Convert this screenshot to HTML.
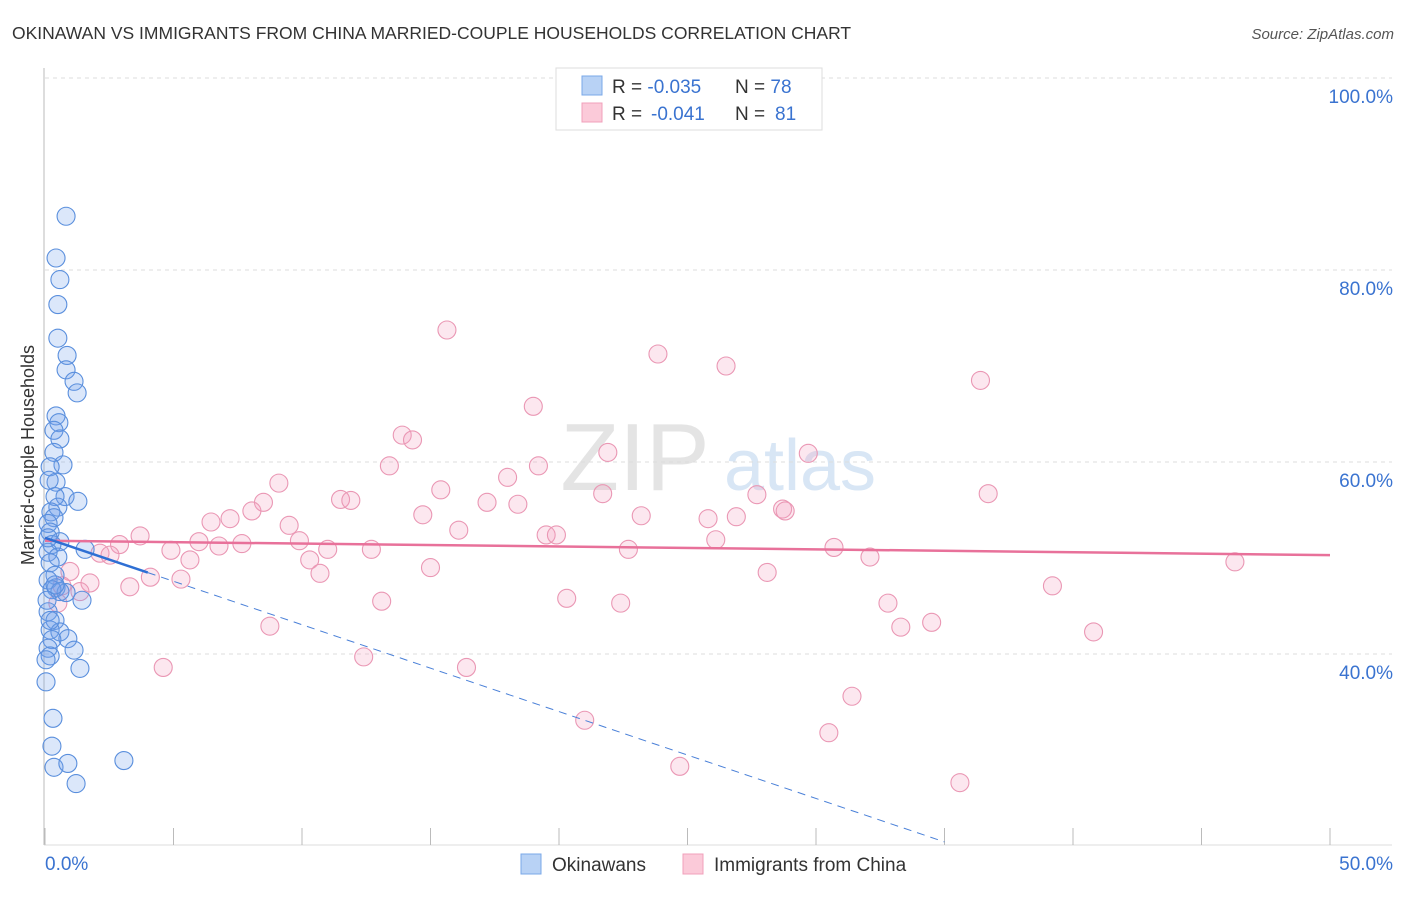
<!DOCTYPE html>
<html><head><meta charset="utf-8"><style>
body{margin:0;background:#fff;font-family:"Liberation Sans",sans-serif;}
svg text{font-family:"Liberation Sans",sans-serif;}
</style></head><body>
<svg id="chart" width="1406" height="892" xmlns="http://www.w3.org/2000/svg">
<text x="12" y="39" font-size="17.5" fill="#333">OKINAWAN VS IMMIGRANTS FROM CHINA MARRIED-COUPLE HOUSEHOLDS CORRELATION CHART</text>
<text x="1394" y="39" font-size="15" fill="#555" font-style="italic" text-anchor="end">Source: ZipAtlas.com</text>
<text x="635" y="490" font-size="96" fill="#e4e4e4" font-family="Liberation Serif" text-anchor="middle">ZIP</text>
<text x="800" y="490" font-size="72" fill="#d8e6f5" text-anchor="middle">atlas</text>
<g id="grid"></g>
<g id="axes"></g>
<g id="marks"></g>
<text transform="translate(34,455) rotate(-90)" font-size="18" fill="#333" text-anchor="middle">Married-couple Households</text>
<g>
<rect x="556" y="68" width="266" height="62" fill="#fff" stroke="#ddd"/>
<rect x="582" y="76" width="20" height="19" fill="#b8d2f5" stroke="#7aa8e8"/>
<rect x="582" y="103" width="20" height="19" fill="#fbcad9" stroke="#f0a0bb"/>
<text x="612" y="93" font-size="19" fill="#333">R = <tspan fill="#3a73d0">-0.035</tspan><tspan x="735">N = </tspan><tspan fill="#3a73d0">78</tspan></text>
<text x="612" y="120" font-size="19" fill="#333">R = <tspan fill="#3a73d0" x="651">-0.041</tspan><tspan x="735">N = </tspan><tspan fill="#3a73d0" x="775">81</tspan></text>
</g>
<g>
<rect x="521" y="854" width="20" height="20" fill="#b8d2f5" stroke="#7aa8e8"/>
<text x="552" y="871" font-size="19" fill="#333">Okinawans</text>
<rect x="683" y="854" width="20" height="20" fill="#fbcad9" stroke="#f0a0bb"/>
<text x="714" y="871" font-size="19" fill="#333">Immigrants from China</text>
</g>
</svg>
<script>
const yTicks=[40,60,80,100];
const yTickLabels=["40.0%","60.0%","80.0%","100.0%"];
const xTicks=[0,5,10,15,20,25,30,35,40,45,50];
const xEndLabels=["0.0%","50.0%"];
const blueX=[0.82,0.43,0.58,0.5,0.5,0.86,0.82,1.13,1.25,0.43,0.54,0.35,0.58,0.35,0.7,0.2,0.43,0.16,0.78,1.28,0.39,0.5,0.23,0.35,0.12,0.2,0.58,0.27,1.56,0.12,0.5,0.2,0.39,0.12,0.43,0.82,0.27,0.58,1.44,0.12,0.39,0.2,0.58,0.89,0.27,0.12,1.13,0.2,1.36,0.04,0.31,0.27,0.35,0.89,3.07,1.21,0.08,0.2,0.04,0.39,0.12];
const blueY=[85.6,81.25,79.0,76.4,72.9,71.1,69.6,68.4,67.2,64.8,64.1,63.3,62.4,61.0,59.7,59.5,57.9,58.1,56.4,55.9,56.4,55.3,54.8,54.2,53.6,52.7,51.7,51.4,50.9,50.6,50.1,49.5,48.2,47.7,46.9,46.4,46.7,46.5,45.6,44.4,43.5,42.5,42.3,41.6,41.5,40.6,40.4,39.8,38.5,37.1,33.3,30.4,28.2,28.6,28.9,26.5,45.6,43.5,39.4,47.2,52.1];
const pinkX=[15.64,23.85,26.5,36.4,19.0,13.9,14.3,21.9,29.7,13.4,19.2,18.0,9.1,15.4,21.7,27.7,36.7,11.5,11.9,8.5,17.2,18.4,8.05,14.7,23.2,28.7,28.8,25.8,26.9,6.46,7.2,9.5,16.1,19.5,19.9,3.7,26.1,5.99,7.66,9.9,2.9,6.77,11.0,12.7,22.7,30.7,4.9,2.14,2.53,5.64,10.3,32.1,46.3,0.97,10.7,15.0,28.1,4.1,5.29,1.75,3.3,0.66,39.2,1.36,20.3,22.4,13.1,32.8,0.5,8.75,33.3,34.5,40.8,12.4,16.4,4.6,31.4,21.0,30.5,24.7,35.6];
const pinkY=[73.75,71.25,70.0,68.5,65.8,62.8,62.3,61.0,60.9,59.6,59.6,58.4,57.8,57.1,56.7,56.6,56.7,56.1,56.0,55.8,55.8,55.6,54.9,54.5,54.4,55.1,54.9,54.1,54.3,53.75,54.1,53.4,52.9,52.4,52.4,52.3,51.9,51.7,51.5,51.8,51.4,51.25,50.9,50.9,50.9,51.1,50.8,50.5,50.3,49.8,49.8,50.1,49.6,48.6,48.4,49.0,48.5,48.0,47.8,47.4,47.0,47.1,47.1,46.5,45.8,45.3,45.5,45.3,45.3,42.9,42.8,43.3,42.3,39.7,38.6,38.6,35.6,33.1,31.8,28.3,26.6];
const pinkTrend=[51.8,50.3];
const blueTrend=[52.1,-0.905];
const NS="http://www.w3.org/2000/svg";
const xs=v=>45+v*25.7, ys=v=>1038-v*9.6;
function mk(tag,attrs,parent){const e=document.createElementNS(NS,tag);for(const k in attrs)e.setAttribute(k,attrs[k]);document.getElementById(parent).appendChild(e);return e;}
yTicks.forEach((t,i)=>{
 const g=mk('line',{x1:45,x2:1392,y1:ys(t),y2:ys(t),stroke:'#ddd','stroke-dasharray':'4,4'},'grid');
 
 
 const l=mk('text',{x:1393,y:ys(t)+25,'font-size':19,fill:'#3a73d0','text-anchor':'end'},'axes');
 l.textContent=yTickLabels[i];
 
 
});
const ax=mk('line',{x1:44,x2:44,y1:68,y2:845,stroke:'#bbb'},'axes');


const bx=mk('line',{x1:44,x2:1392,y1:845,y2:845,stroke:'#ddd'},'axes');


xTicks.forEach(t=>{
 const tk=mk('line',{x1:xs(t),x2:xs(t),y1:828,y2:845,stroke:'#bbb'},'axes');
 
 
});
[[0,'start',45],[50,'end',1393]].forEach((d,i)=>{
 const l=mk('text',{x:d[2],y:870,'font-size':19,fill:'#3a73d0','text-anchor':d[1]},'axes');
 l.textContent=xEndLabels[i];
 
 
});
pinkX.forEach((x,i)=>{
 const c=mk('circle',{cx:xs(x),cy:ys(pinkY[i]),r:9,fill:'rgba(245,160,190,0.25)',stroke:'#ea97b4','stroke-width':1.1},'marks');
 
 
});
blueX.forEach((x,i)=>{
 const c=mk('circle',{cx:xs(x),cy:ys(blueY[i]),r:9,fill:'rgba(110,160,235,0.25)',stroke:'#5a8fdd','stroke-width':1.1},'marks');
 
 
});
const pl=mk('line',{x1:xs(0),y1:ys(pinkTrend[0]),x2:xs(50),y2:ys(pinkTrend[1]),stroke:'#e8719a','stroke-width':2.5},'marks');


const bf=x=>blueTrend[0]+blueTrend[1]*x;
const bd=mk('line',{x1:xs(4),y1:ys(bf(4)),x2:xs(35),y2:ys(bf(35)),stroke:'#4a80d8','stroke-width':1,'stroke-dasharray':'8,6'},'marks');


const bs=mk('line',{x1:xs(0),y1:ys(bf(0)),x2:xs(4),y2:ys(bf(4)),stroke:'#2e6fd4','stroke-width':2.5},'marks');


</script>
</body></html>
